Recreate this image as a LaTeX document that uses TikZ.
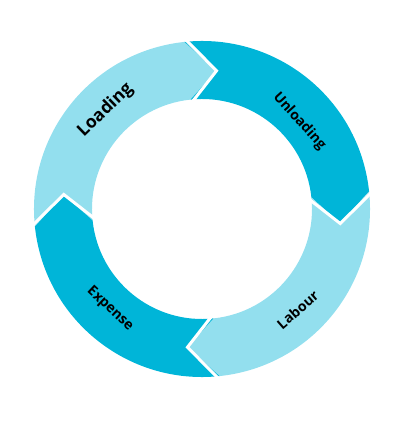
\documentclass[tikz,border=0pt]{standalone}
\usepackage{fontspec}
\setmainfont{Open Sans}
\definecolor{ringlight}{HTML}{93DFEE}
\definecolor{ringdark}{HTML}{00B5D8}

\begin{document}
\begin{tikzpicture}[
    gap/.style={draw=white,line width=3pt,line join=miter},
    lbl/.style={font=\bfseries\fontsize{14}{15}\selectfont,inner sep=0pt}
  ]
		% Set up radii of the ring
		\newcommand{\rout}{168pt}
		\newcommand{\rin}{110pt}
		\newcommand{\rmid}{139pt}

		\useasboundingbox (-202pt,-224pt) rectangle (210pt,209pt);

		% four arrow segments, running clockwise
		\foreach \s/\c in {186/ringlight,96/ringdark,6/ringlight,-84/ringdark}{
			\pgfmathsetmacro{\e}{\s-90}
			\fill[\c] (\s:\rout) arc[start angle=\s,end angle=\e,radius=\rout] -- (\e-12:\rmid) -- (\e:\rin) arc[start angle=\e,end angle=\s,radius=\rin] -- (\s-12:\rmid) -- cycle;
		}
		\foreach \s in {186,96,6,-84}{
			\draw[gap] (\s:172pt) -- (\s-12:\rmid) -- (\s:106pt);
		}

		\node[lbl,font=\bfseries\fontsize{17.5}{18}\selectfont,rotate=44] (loading) at (134.4:138pt) {Loading};
		\node[lbl,rotate=-48] (unloading) at (42:131pt) {Unloading};
		\node[lbl,rotate=41] (labour) at (-46.5:139pt) {Labour};
		\node[lbl,rotate=-43] (expense) at (227.4:136pt) {Expense};
	\end{tikzpicture}
\end{document}
